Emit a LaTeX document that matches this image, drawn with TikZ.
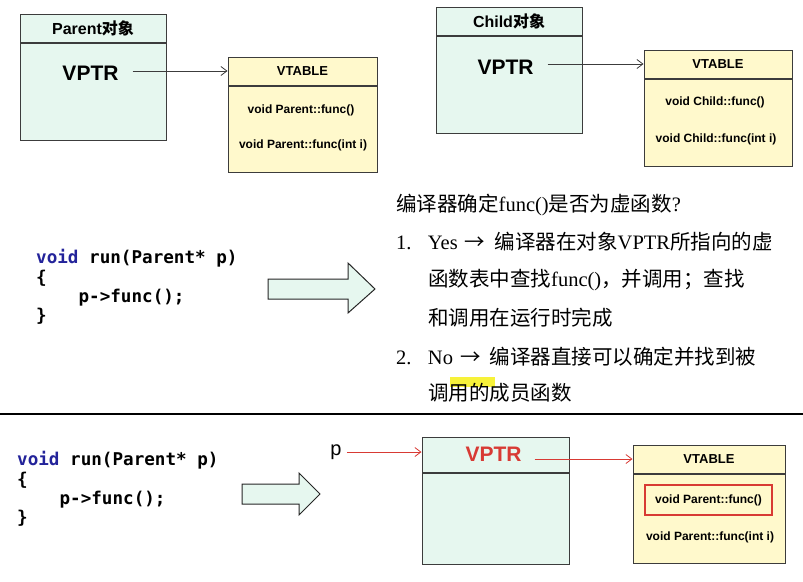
\documentclass[tikz,border=0pt]{standalone}
\usepackage{fontspec}
\setmainfont{Liberation Serif}
\setsansfont{Liberation Sans}
\setmonofont{DejaVu Sans Mono}
\newfontfamily\cjk{Noto Sans CJK SC}
\usetikzlibrary{arrows.meta, positioning}
\definecolor{ObjFill}{HTML}{E6F7EF}
\definecolor{TabFill}{HTML}{FFF9CC}
\definecolor{Edge}{HTML}{3C3C3C}
\definecolor{PtrRed}{HTML}{D83A34}
\definecolor{KeyBlue}{HTML}{23239A}
\definecolor{Marker}{HTML}{F7F23A}

\tikzset{
  objhead/.style={draw=Edge, fill=ObjFill, line width=1pt, inner sep=0pt, minimum width=146pt, minimum height=28pt, font=\sffamily\bfseries\fontsize{16}{18}\selectfont},
  objbody/.style={draw=Edge, fill=ObjFill, line width=1pt, inner sep=0pt, minimum width=146pt},
  tabhead/.style={draw=Edge, fill=TabFill, line width=1pt, inner sep=0pt, minimum width=149pt, minimum height=28pt, font=\sffamily\bfseries\fontsize{13}{15}\selectfont},
  tabbody/.style={draw=Edge, fill=TabFill, line width=1pt, inner sep=0pt, minimum width=149pt},
  ptr/.style={inner ysep=0pt, inner xsep=14pt, font=\sffamily\bfseries\fontsize{21}{24}\selectfont},
  entry/.style={inner sep=0pt, font=\sffamily\bfseries\fontsize{12}{14}\selectfont},
  link/.style={draw=Edge, line width=0.8pt, -{Straight Barb[length=6pt, width=9pt]}},
  redlink/.style={link, draw=PtrRed},
  code/.style={anchor=west, align=left, inner sep=0pt, font=\ttfamily\bfseries\fontsize{17.6}{19.3}\selectfont},
  note/.style={anchor=west, inner sep=0pt, font=\cjk\fontsize{20.5}{24}\selectfont},
  hollow/.style={draw=black!85, fill=ObjFill, line width=1pt},
}

\begin{document}
\begin{tikzpicture}[x=1pt, y=-1pt]
  \useasboundingbox (0,0) rectangle (803,581);

  % Parent object and its table
  \node[objhead] (phead) at (93,28) {Parent{\cjk 对象}};
  \node[objbody, minimum height=97pt, below=0pt of phead] (pbody) {};
  \node[ptr] (pptr) at (90.5,73.5) {VPTR};
  \node[tabhead] (ptabh) at (302.5,71) {VTABLE};
  \node[tabbody, minimum height=86pt, below=0pt of ptabh] (ptabb) {};
  \node[entry] (pf1) at (301,110) {void Parent::func()};
  \node[entry] (pf2) at (303,145) {void Parent::func(int i)};
  \draw[link] (pptr.east |- ptabh.west) -- (ptabh.west);

  % Child object and its table
  \node[objhead] (chead) at (509,21) {Child{\cjk 对象}};
  \node[objbody, minimum height=97pt, below=0pt of chead] (cbody) {};
  \node[ptr] (cptr) at (505.5,67) {VPTR};
  \node[tabhead, minimum width=148pt] (ctabh) at (718,64) {VTABLE};
  \node[tabbody, minimum width=148pt, minimum height=87pt, below=0pt of ctabh] (ctabb) {};
  \node[entry] (cf1) at (715,102) {void Child::func()};
  \node[entry] (cf2) at (716,139) {void Child::func(int i)};
  \draw[link] (cptr.east |- ctabh.west) -- (ctabh.west);

  % Call site and the question
  \node[code] (runA) at (36,287) {{\color{KeyBlue}void} run(Parent* p)\\ \{\\ \phantom{xxxx}p->func();\\ \}};
  \draw[hollow] (268,279) -- (348,279) -- (348,263) -- (375,289) -- (348,313) -- (348,299) -- (268,299) -- cycle;
  \fill[Marker] (450,377) rectangle (495,387);
  \node[note] (ask) at (396,205) {编译器确定\textrm{func()}是否为虚函数\textrm{?}};
  \node[note] (yesA) at (396,242) {\textrm{1.\hspace{0.8em}Yes}\hspace{0.35em}→\hspace{0.45em}编译器在对象\textrm{VPTR}所指向的虚};
  \node[note] (yesB) at (428,280) {函数表中查找\textrm{func()}，并调用；查找};
  \node[note] (yesC) at (428,318) {和调用在运行时完成};
  \node[note] (noA) at (396,357) {\textrm{2.\hspace{0.8em}No}\hspace{0.35em}→\hspace{0.45em}编译器直接可以确定并找到被};
  \node[note] (noB) at (428,393) {调用的成员函数};

  \draw[line width=1.5pt] (0,414) -- (803,414);

  % Dynamic lookup through p
  \node[code] (runB) at (17,489) {{\color{KeyBlue}void} run(Parent* p)\\ \{\\ \phantom{xxxx}p->func();\\ \}};
  \draw[hollow] (242,484) -- (299,484) -- (299,473) -- (320,494) -- (299,515) -- (299,504) -- (242,504) -- cycle;
  \node[inner ysep=0pt, inner xsep=5pt, font=\sffamily\fontsize{20}{22}\selectfont] (pvar) at (336,452) {p};
  \node[objhead, minimum width=147pt, minimum height=35pt] (bhead) at (495.5,454.5) {};
  \node[objbody, minimum width=147pt, minimum height=91pt, below=0pt of bhead] (bbody) {};
  \node[ptr, inner xsep=13pt, text=PtrRed] (bptr) at (493.5,454) {VPTR};
  \node[tabhead, minimum width=152pt] (btabh) at (709,459) {VTABLE};
  \node[tabbody, minimum width=152pt, minimum height=89pt, below=0pt of btabh] (btabb) {};
  \node[entry, draw=PtrRed, line width=1.3pt, minimum width=127pt, minimum height=30pt] (bf1) at (708.5,500) {void Parent::func()};
  \node[entry] (bf2) at (710,537) {void Parent::func(int i)};
  \draw[redlink] (pvar.east) -- (pvar.east -| bhead.west);
  \draw[redlink] (bptr.east |- btabh.west) -- (btabh.west);
\end{tikzpicture}
\end{document}
